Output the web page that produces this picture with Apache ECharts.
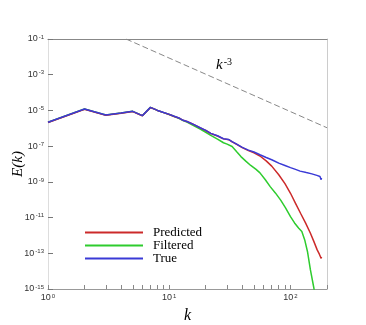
<!DOCTYPE html>
<html lang="en">
<head>
    <meta charset="utf-8">
    <title>E(k) spectrum</title>
    <script src="https://cdn.jsdelivr.net/npm/echarts@6/dist/echarts.min.js"></script>
</head>
<body style="margin:0;background:#fff;">
<div id="main" style="width:366px;height:325px;"></div>

<script type="text/javascript">

    // wavenumbers and energy
    var kTrue = [1, 2, 3, 4, 5, 6, 7, 8, 9, 10, 11, 12, 13, 14, 16, 18, 20, 22, 25, 28, 29, 31, 33, 36, 40,
                 45, 50, 56, 63, 70, 80, 90, 100, 110, 120, 135, 150, 165, 175, 177, 179, 180];
    var eTrue = [2.2e-6, 1.2e-5, 5.5e-6, 7.1e-6, 8.9e-6, 5.1e-6, 1.48e-5, 1.0e-5, 7.6e-6, 6.0e-6, 4.7e-6, 3.8e-6, 2.8e-6, 2.4e-6,
                 1.6e-6, 1.07e-6, 7.6e-7, 5.2e-7, 3.8e-7, 2.6e-7, 2.3e-7, 2.35e-7, 1.8e-7, 1.3e-7, 8.5e-8,
                 6.0e-8, 4.7e-8, 3.3e-8, 2.3e-8, 1.74e-8, 1.12e-8, 8.3e-9, 6.3e-9, 5.0e-9, 4.0e-9, 3.3e-9,
                 2.8e-9, 2.3e-9, 2.0e-9, 2.4e-9, 1.32e-9, 1.66e-9];

    var kPred = [1, 2, 3, 4, 5, 6, 7, 8, 9, 10, 11, 12, 13, 14, 16, 18, 20, 22, 25, 28, 29, 31, 33, 36, 40,
                 45, 50, 56, 63, 70, 80, 90, 100, 110, 121, 133, 146, 156, 166, 173, 179, 180];
    var ePred = [2.1e-6, 1.15e-5, 5.3e-6, 6.9e-6, 8.6e-6, 5.0e-6, 1.45e-5, 1.0e-5, 7.5e-6, 5.9e-6, 4.6e-6, 3.8e-6, 2.8e-6, 2.4e-6,
                 1.6e-6, 1.05e-6, 7.5e-7, 5.1e-7, 3.7e-7, 2.55e-7, 2.25e-7, 2.3e-7, 1.75e-7, 1.26e-7, 8.2e-8,
                 5.6e-8, 4.2e-8, 2.8e-8, 1.5e-8, 7.6e-9, 2.5e-9, 7.9e-10, 2.3e-10, 6.3e-11, 1.74e-11, 5.0e-12,
                 1.32e-12, 4.5e-13, 1.55e-13, 8.9e-14, 5.2e-14, 6.3e-14];

    var kFilt = [1, 2, 3, 4, 5, 6, 7, 8, 9, 10, 11, 12, 13, 14, 16, 18, 20, 22, 25, 28, 30, 31, 33, 36, 39,
                 43, 47, 52, 56, 62, 68, 75, 83, 91, 100, 108, 117, 124, 127, 131, 138, 146, 156, 165];
    var eFilt = [2.2e-6, 1.2e-5, 5.5e-6, 7.1e-6, 8.9e-6, 5.1e-6, 1.48e-5, 1.0e-5, 7.5e-6, 5.9e-6, 4.6e-6, 3.6e-6, 2.7e-6, 2.2e-6,
                 1.38e-6, 9.1e-7, 6.0e-7, 4.0e-7, 2.5e-7, 1.55e-7, 1.3e-7, 1.36e-7, 9.5e-8, 4.8e-8, 2.6e-8,
                 1.4e-8, 8.3e-9, 5.0e-9, 3.2e-9, 1.32e-9, 5.4e-10, 2.4e-10, 9.5e-11, 3.5e-11, 1.12e-11, 5.0e-12,
                 2.5e-12, 1.66e-12, 1.41e-12, 5.6e-13, 1.26e-13, 1.17e-14, 1.1e-15, 1.0e-16];

    // k^-3 guide line
    var kRef = [4.4, 200];
    var eRef = [1e-1, 1.07e-6];

    var xMajor = [1, 10, 100];
    var xTicks = [1, 2, 3, 4, 5, 6, 7, 8, 9, 10, 20, 30, 40, 50, 60, 70, 80, 90, 100, 200];
    var yMajor = [1e-15, 1e-13, 1e-11, 1e-9, 1e-7, 1e-5, 1e-3, 1e-1];

    function pairs(xs, ys) {
        var out = [];
        for (var i = 0; i < xs.length; i++) out.push([xs[i], ys[i]]);
        return out;
    }

    function powLabel(v) {
        var e = Math.round(Math.log10(v));
        return '{b|10}{e|' + e + '}';
    }

    var labelRich = {
        b: {fontSize: 9, fontFamily: 'Liberation Sans', color: '#333'},
        e: {fontSize: 6, fontFamily: 'Liberation Sans', color: '#333', verticalAlign: 'top', padding: [0, 0, 4, 1]}
    };

    var myChart = echarts.init(document.getElementById('main'));

    myChart.setOption({
        animation: false,
        grid: {left: 48, top: 39, right: 39, bottom: 36, outerBoundsMode: 'none'},
        legend: {
            orient: 'vertical',
            left: 85,
            top: 226,
            padding: 0,
            icon: 'rect',
            itemWidth: 58,
            itemHeight: 2,
            itemGap: 0,
            data: ['Predicted', 'Filtered', 'True'],
            textStyle: {fontFamily: 'Liberation Serif', fontSize: 13, color: '#000', lineHeight: 13, padding: [0, 0, 0, 5]}
        },
        xAxis: [{
            type: 'log',
            min: 1,
            max: 200,
            name: 'k',
            nameLocation: 'middle',
            nameGap: 19,
            nameMoveOverlap: false,
            nameTextStyle: {fontFamily: 'Liberation Serif', fontStyle: 'italic', fontSize: 16, color: '#000'},
            axisLine: {lineStyle: {color: '#999', width: 1}},
            axisTick: {inside: true, length: 4, customValues: xTicks, lineStyle: {color: '#888'}},
            axisLabel: {customValues: xMajor, formatter: powLabel, rich: labelRich, margin: 4},
            splitLine: {show: false}
        }, {
            type: 'log',
            min: 1,
            max: 200,
            position: 'top',
            axisLine: {lineStyle: {color: '#888', width: 1.2}},
            axisTick: {show: false},
            axisLabel: {show: false},
            splitLine: {show: false}
        }],
        yAxis: [{
            type: 'log',
            min: 1e-15,
            max: 1e-1,
            name: 'E(k)',
            nameLocation: 'middle',
            nameGap: 22,
            nameMoveOverlap: false,
            nameRotate: 90,
            nameTextStyle: {fontFamily: 'Liberation Serif', fontStyle: 'italic', fontSize: 15, color: '#000', padding: [0, 0, 0, 0]},
            axisLine: {show: true, lineStyle: {color: '#ddd', width: 1}},
            axisTick: {show: true, inside: true, length: 5, customValues: yMajor, lineStyle: {color: '#777'}},
            axisLabel: {customValues: yMajor, formatter: powLabel, rich: labelRich, margin: 4},
            splitLine: {show: false}
        }, {
            type: 'log',
            min: 1e-15,
            max: 1e-1,
            position: 'right',
            axisLine: {show: true, lineStyle: {color: '#ccc', width: 1}},
            axisTick: {show: false},
            axisLabel: {show: false},
            splitLine: {show: false}
        }],
        graphic: [{
            type: 'text',
            left: 216,
            top: 57,
            style: {
                text: '{k|k}{e|-3}',
                rich: {
                    k: {fontFamily: 'Liberation Serif', fontStyle: 'italic', fontSize: 15, color: '#000'},
                    e: {fontFamily: 'Liberation Serif', fontSize: 10, color: '#000', verticalAlign: 'top', padding: [0, 0, 6, 1]}
                }
            }
        }],
        series: [{
            name: 'ref',
            type: 'line',
            symbol: 'none',
            silent: true,
            data: pairs(kRef, eRef),
            lineStyle: {color: '#888', width: 1, type: [6, 3]},
            z: 1
        }, {
            name: 'Filtered',
            type: 'line',
            symbol: 'none',
            color: '#2ecc2e',
            data: pairs(kFilt, eFilt),
            lineStyle: {color: '#2ecc2e', width: 1.5},
            z: 2
        }, {
            name: 'Predicted',
            type: 'line',
            symbol: 'none',
            color: '#cc2a2a',
            data: pairs(kPred, ePred),
            lineStyle: {color: '#cc2a2a', width: 1.5},
            z: 3
        }, {
            name: 'True',
            type: 'line',
            symbol: 'none',
            color: '#3a3ad6',
            data: pairs(kTrue, eTrue),
            lineStyle: {color: '#3a3ad6', width: 1.5},
            z: 4
        }]
    });

</script>
</body>
</html>
